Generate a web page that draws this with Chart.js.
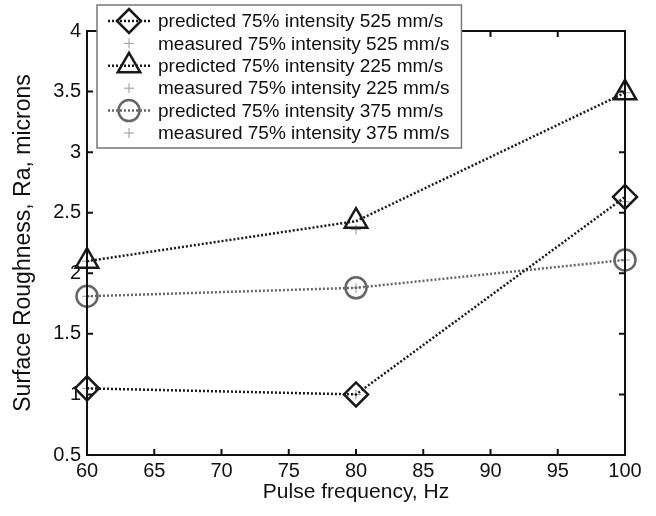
<!DOCTYPE html>
<html>
<head>
<meta charset="utf-8">
<script src="https://cdn.jsdelivr.net/npm/chart.js@4"></script>
<style>
  body { margin: 0; background: #fff; }
</style>
</head>
<body>
<canvas id="roughChart" width="656" height="516"></canvas>
<script>
// Pulse frequency (Hz)
const frequencies = [60, 80, 100];

// Surface roughness Ra (microns)
const predicted525 = [1.05, 1.00, 2.63];
const measured525 = [1.05, 1.00, 2.59];
const predicted225 = [2.10, 2.43, 3.49];
const measured225 = [2.10, 2.36, 3.49];
const predicted375 = [1.81, 1.88, 2.11];
const measured375 = [1.81, 1.88, 2.11];

const xTicks = [60, 65, 70, 75, 80, 85, 90, 95, 100];
const yTicks = [0.5, 1, 1.5, 2, 2.5, 3, 3.5, 4];

const FONT = "'Liberation Sans', Arial, Helvetica, sans-serif";

function toPoints(values) {
    return values.map((v, i) => ({ x: frequencies[i], y: v }));
}

function predictedSet(label, values, color, style, radius) {
    return {
        label: label,
        data: toPoints(values),
        borderColor: color,
        backgroundColor: 'rgba(0,0,0,0)',
        borderWidth: 2.5,
        borderDash: [2, 2],
        pointStyle: style,
        pointRadius: radius,
        pointBorderWidth: 2.5,
        pointBorderColor: color,
        pointBackgroundColor: 'rgba(0,0,0,0)',
        showLine: true,
        clip: false
    };
}

function measuredSet(label, values) {
    return {
        label: label,
        data: toPoints(values),
        borderColor: '#999',
        backgroundColor: 'rgba(0,0,0,0)',
        pointStyle: 'cross',
        pointRadius: 5,
        pointBorderWidth: 1,
        pointBorderColor: '#999',
        showLine: false,
        clip: false
    };
}

// Box with inward ticks on all four sides (MATLAB style)
const boxAxes = {
    id: 'boxAxes',
    afterDatasetsDraw(chart) {
        const ctx = chart.ctx;
        const a = chart.chartArea;
        const xs = chart.scales.x, ys = chart.scales.y;
        const len = 6;
        ctx.save();
        ctx.strokeStyle = '#111';
        ctx.lineWidth = 2;
        ctx.strokeRect(a.left, a.top, a.right - a.left, a.bottom - a.top);
        ctx.beginPath();
        xTicks.forEach(t => {
            const px = xs.getPixelForValue(t);
            ctx.moveTo(px, a.bottom); ctx.lineTo(px, a.bottom - len);
            ctx.moveTo(px, a.top); ctx.lineTo(px, a.top + len);
        });
        yTicks.forEach(t => {
            const py = ys.getPixelForValue(t);
            ctx.moveTo(a.left, py); ctx.lineTo(a.left + len, py);
            ctx.moveTo(a.right, py); ctx.lineTo(a.right - len, py);
        });
        ctx.stroke();
        ctx.restore();
    }
};

// Legend box drawn inside the plot, line segment + marker per entry
const boxLegend = {
    id: 'boxLegend',
    afterDraw(chart) {
        const ctx = chart.ctx;
        const left = 97, top = 5, height = 143;
        const textX = 158, rowTop = 21, rowGap = 22.4;
        ctx.save();
        ctx.font = '19px ' + FONT;
        let textW = 0;
        chart.data.datasets.forEach(ds => { textW = Math.max(textW, ctx.measureText(ds.label).width); });
        const width = textX + textW + 12 - left;
        ctx.fillStyle = '#fff';
        ctx.fillRect(left, top, width, height);
        ctx.strokeStyle = '#777';
        ctx.lineWidth = 1.5;
        ctx.strokeRect(left, top, width, height);
        ctx.textBaseline = 'middle';
        ctx.textAlign = 'left';
        chart.data.datasets.forEach((ds, i) => {
            const y = rowTop + i * rowGap;
            const mx = 129;
            if (ds.showLine) {
                ctx.save();
                ctx.strokeStyle = ds.borderColor;
                ctx.lineWidth = ds.borderWidth;
                ctx.setLineDash(ds.borderDash);
                ctx.beginPath();
                ctx.moveTo(108, y);
                ctx.lineTo(150, y);
                ctx.stroke();
                ctx.restore();
            }
            ctx.save();
            ctx.strokeStyle = ds.pointBorderColor;
            ctx.fillStyle = 'rgba(0,0,0,0)';
            ctx.lineWidth = ds.pointBorderWidth;
            Chart.helpers.drawPoint(ctx, {
                pointStyle: ds.pointStyle,
                radius: ds.pointRadius,
                rotation: 0,
                borderWidth: ds.pointBorderWidth
            }, mx, y);
            ctx.restore();
            ctx.fillStyle = '#111';
            ctx.fillText(ds.label, textX, y + 1);
        });
        ctx.restore();
    }
};

const ctx = document.getElementById('roughChart').getContext('2d');
const roughChart = new Chart(ctx, {
    type: 'scatter',
    data: {
        datasets: [
            predictedSet('predicted 75% intensity 525 mm/s', predicted525, '#1a1a1a', 'rectRot', 12),
            measuredSet('measured 75% intensity 525 mm/s', measured525),
            predictedSet('predicted 75% intensity 225 mm/s', predicted225, '#1a1a1a', 'triangle', 13),
            measuredSet('measured 75% intensity 225 mm/s', measured225),
            predictedSet('predicted 75% intensity 375 mm/s', predicted375, '#666', 'circle', 10.5),
            measuredSet('measured 75% intensity 375 mm/s', measured375)
        ]
    },
    options: {
        responsive: false,
        animation: false,
        layout: {
            padding: { top: 31, right: 31, bottom: 0, left: 0 }
        },
        scales: {
            x: {
                type: 'linear',
                min: 60,
                max: 100,
                afterBuildTicks: scale => { scale.ticks = xTicks.map(v => ({ value: v })); },
                afterFit: scale => { scale.height = 61; },
                grid: { display: false, drawTicks: false },
                border: { display: false },
                ticks: {
                    color: '#111',
                    padding: 4,
                    font: { family: FONT, size: 20 },
                    callback: v => String(v)
                },
                title: {
                    display: true,
                    text: 'Pulse frequency, Hz',
                    color: '#111',
                    font: { family: FONT, size: 21 },
                    padding: { top: 0, bottom: 11 }
                }
            },
            y: {
                type: 'linear',
                min: 0.5,
                max: 4,
                afterBuildTicks: scale => { scale.ticks = yTicks.map(v => ({ value: v })); },
                afterFit: scale => { scale.width = 87; },
                grid: { display: false, drawTicks: false },
                border: { display: false },
                ticks: {
                    color: '#111',
                    padding: 6,
                    font: { family: FONT, size: 20 },
                    callback: v => String(v)
                },
                title: {
                    display: true,
                    text: 'Surface Roughness, Ra, microns',
                    color: '#111',
                    font: { family: FONT, size: 23 },
                    padding: { top: 10, bottom: 0 }
                }
            }
        },
        plugins: {
            legend: { display: false },
            tooltip: { enabled: false }
        }
    },
    plugins: [boxAxes, boxLegend]
});
</script>
</body>
</html>
